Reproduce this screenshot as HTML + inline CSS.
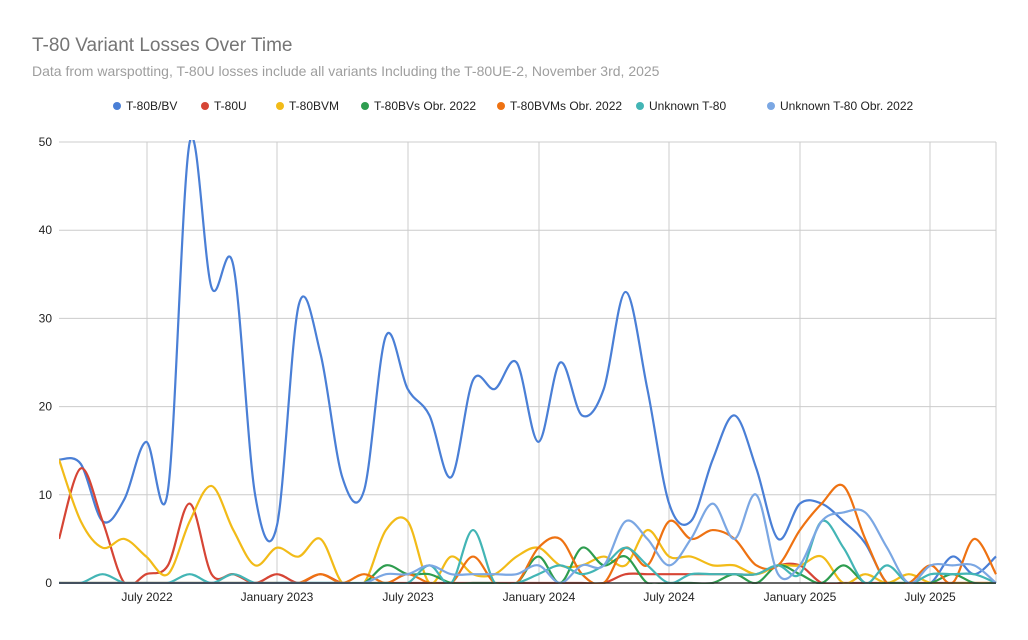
<!DOCTYPE html>
<html><head><meta charset="utf-8"><style>
body{margin:0;background:#fff;font-family:"Liberation Sans",Arial,sans-serif}
</style></head><body>
<svg id="s" width="1028" height="635" xmlns="http://www.w3.org/2000/svg" font-family="Liberation Sans, Arial, sans-serif">
<rect width="1028" height="635" fill="#fff"/>
<text x="32" y="51" font-size="19" fill="#757575">T-80 Variant Losses Over Time</text>
<text x="32" y="76" font-size="14" fill="#9e9e9e">Data from warspotting, T-80U losses include all variants Including the T-80UE-2, November 3rd, 2025</text>
<g id="grid"></g>
<g id="legend" font-size="12" fill="#222"></g>
<g id="lines" clip-path="url(#c)"></g>
<defs><clipPath id="c"><rect x="59" y="140" width="938" height="444"/></clipPath></defs>
<line x1="59" y1="583" x2="996" y2="583" stroke="#333" stroke-width="1.5"/>
</svg>
<script>
const NS="http://www.w3.org/2000/svg";
function el(t,a,p,txt){const e=document.createElementNS(NS,t);for(const k in a)e.setAttribute(k,a[k]);if(txt!=null)e.textContent=txt;p.appendChild(e);return e;}
const g=document.getElementById('grid');
const X0=59,DX=(996-59)/43,Y0=583,SY=(583-142)/50;
for(let v=0;v<=50;v+=10){const y=Y0-v*SY;el('line',{x1:59,x2:996,y1:y,y2:y,stroke:'#ccc'},g);el('text',{x:52,y:y+4,'font-size':12,'text-anchor':'end',fill:'#222'},g,v);}
const xl=[[147,'July 2022'],[277,'January 2023'],[408,'July 2023'],[539,'January 2024'],[669,'July 2024'],[800,'January 2025'],[930,'July 2025']];
xl.forEach(([x,t])=>{el('line',{x1:x,x2:x,y1:142,y2:583,stroke:'#ccc'},g);el('text',{x:x,y:601,'font-size':12,'text-anchor':'middle',fill:'#222'},g,t);});
el('line',{x1:996,x2:996,y1:142,y2:583,stroke:'#ccc'},g);
const S=[
['T-80B/BV','#4a7fd6',[14,13.5,7,9.5,16,10.5,50,33.5,36,10,6.5,31.5,26,12,10.5,28,22,19,12,23,22,25,16,25,19,22,33,22,9,7,14,19,13,5,9,9,7,4.5,0,0,0,3,1,3]],
['T-80U','#d64535',[5,13,7,0,1,2,9,1,1,0,1,0,1,0,0,0,0,0,0,0,0,0,0,0,0,0,1,1,1,1,1,1,1,2,2,0,0,0,0,0,0,0,0,0]],
['T-80BVM','#f2bb18',[14,7,4,5,3,1,7,11,6,2,4,3,5,0,0,6,7,0,3,1,1,3,4,2,2,3,2,6,3,3,2,2,1,2,2,3,0,1,0,1,0,0,0,0]],
['T-80BVs Obr. 2022','#2e9d4f',[0,0,0,0,0,0,0,0,0,0,0,0,0,0,0,2,1,1,0,0,0,0,3,0,4,2,3,0,0,0,0,1,0,2,1,0,2,0,0,0,0,1,0,0]],
['T-80BVMs Obr. 2022','#ee7212',[0,0,0,0,0,0,0,0,0,0,0,0,1,0,1,0,1,0,0,3,0,0,4,5,1,0,4,2,7,5,6,5,2,2,6,9,11,5,0,0,2,0,5,1]],
['Unknown T-80','#43b5b5',[0,0,1,0,0,0,1,0,1,0,0,0,0,0,0,0,0,2,0,6,0,0,1,2,1,2,4,2,0,1,1,1,1,2,1,7,4,0,2,0,1,1,1,0]],
['Unknown T-80 Obr. 2022','#7ba7e3',[0,0,0,0,0,0,0,0,0,0,0,0,0,0,0,1,1,2,1,1,1,1,2,0,2,2,7,5,2,5,9,5,10,1,2,7,8,8,4,0,2,2,2,0]]
];
const L=document.getElementById('lines'),lg=document.getElementById('legend');
const lx=[117,205,280,365,501,640,771];
S.forEach((s,k)=>{
 const p=s[2].map((v,i)=>[X0+i*DX,Y0-v*SY]);
 let d='M'+p[0][0]+','+p[0][1];
 for(let i=0;i<p.length-1;i++){const a=p[Math.max(0,i-1)],b=p[i],c=p[i+1],e=p[Math.min(p.length-1,i+2)];
  const t=0.5/3;
  d+=` C${b[0]+(c[0]-a[0])*t},${b[1]+(c[1]-a[1])*t} ${c[0]-(e[0]-b[0])*t},${c[1]-(e[1]-b[1])*t} ${c[0]},${c[1]}`;}
 el('path',{d:d,fill:'none',stroke:s[1],'stroke-width':2.2},L);
 el('circle',{cx:lx[k],cy:106,r:4,fill:s[1]},lg);
 el('text',{x:lx[k]+9,y:110},lg,s[0]);
});
</script>
</body></html>
